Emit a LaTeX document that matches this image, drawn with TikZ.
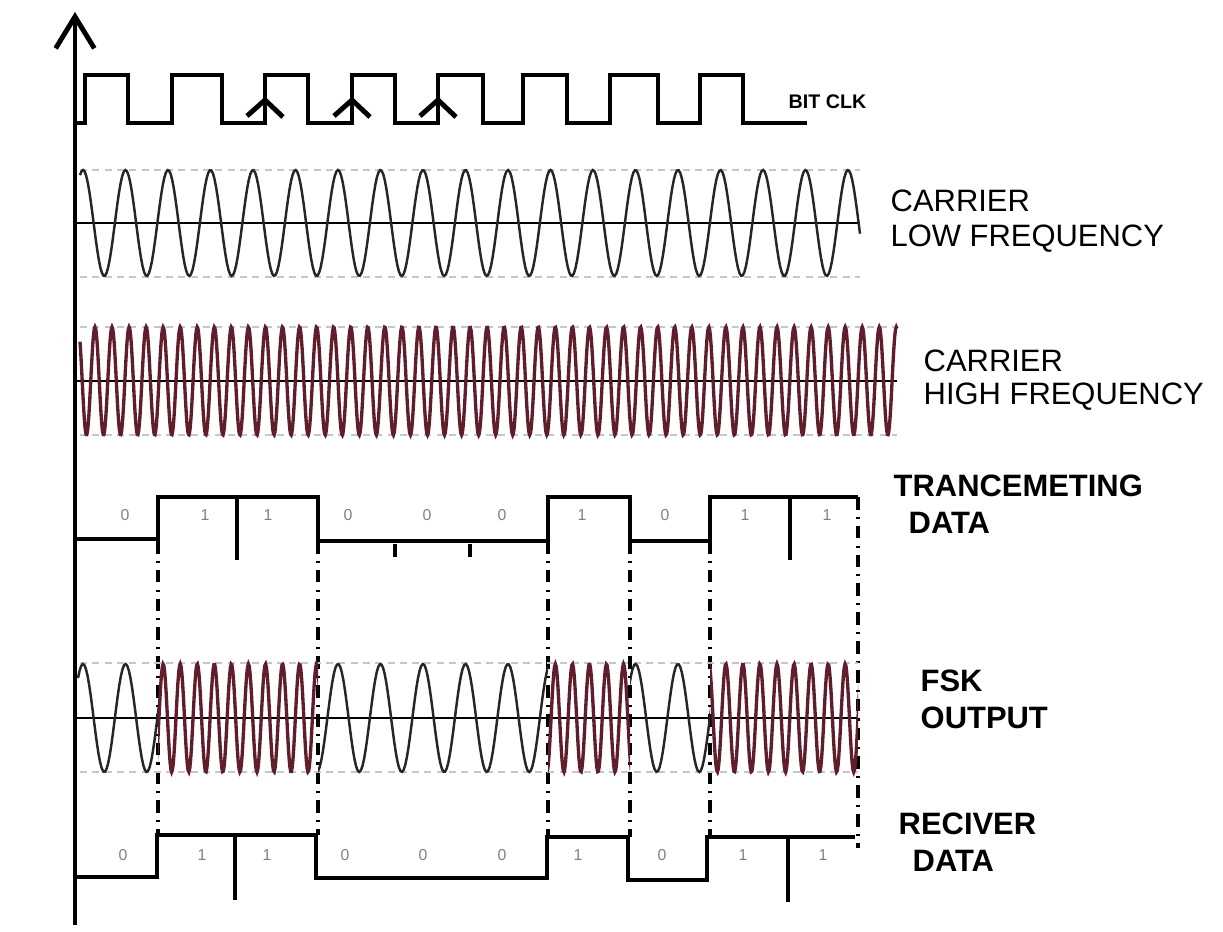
\documentclass[tikz,border=0pt]{standalone}
\usepackage{fontspec}
\setmainfont{Liberation Sans}
\usetikzlibrary{calc,arrows.meta}

\definecolor{wavered}{RGB}{96,30,44}

\tikzset{
  clk/.style={line width=1.4pt},
  axisline/.style={line width=1.4pt},
  level/.style={line width=1.1pt},
  tickline/.style={line width=0.9pt},
  edgeline/.style={line width=0.9pt,dash pattern=on 3.6pt off 2pt on 0.6pt off 2pt},
  guide/.style={gray!45,line width=0.35pt,dash pattern=on 2pt off 1.5pt},
  midline/.style={line width=0.55pt},
  lowwave/.style={black!85,line width=0.7pt},
  highwave/.style={wavered,line width=0.95pt},
  bit/.style={gray,font=\fontsize{4.5}{5}\selectfont,inner sep=0pt},
  lab/.style={anchor=base west,inner sep=0pt,font=\fontsize{8.8}{10}\selectfont},
  blab/.style={lab,font=\fontsize{8.8}{10}\selectfont\bfseries},
}

\begin{document}
\begin{tikzpicture}[x=0.1mm,y=-0.1mm]
  \useasboundingbox (0,0) rectangle (1223,932);
  % time axis
  \draw[axisline,-{Straight Barb[length=9pt,width=11pt]}] (75,925) -- (75,12);

  % bit clock
  \draw[clk] (75,123) \foreach \r/\f in {85/128,172/222,265/308,352/395,438/483,523/567,610/658,700/743}{
     -- (\r,123) -- (\r,75) -- (\f,75) -- (\f,123)} -- (807,123);
  \foreach \r in {265,352,438}
     \draw[clk] (\r-18,116) -- (\r,100) -- (\r+18,117);
  \node[blab,font=\fontsize{5.6}{6}\selectfont\bfseries] (clk) at (788,109) {BIT CLK};

  % carriers
  \draw[guide] (80,170) -- (860,170) (80,277) -- (860,277);
  \draw[midline] (75,223) -- (860,223);
  \draw[lowwave] plot[domain=80:860,samples=500] (\x,{223-53*cos(360*mod((\x-83)/42.5,1))});
  \draw[guide] (80,327) -- (897,327) (80,435) -- (897,435);
  \draw[midline] (75,381) -- (897,381);
  \draw[highwave] plot[domain=80:897,samples=1200] (\x,{381-54*cos(360*mod((\x-95)/17.05,1))});

  % transmitted data
  \draw[level] (75,539) -- (158,539) -- (158,497) -- (318,497) -- (318,541) -- (548,541) -- (548,497)
     -- (630,497) -- (630,541) -- (710,541) -- (710,497) -- (858,497);
  \draw[tickline] (237,497) -- (237,560) (790,497) -- (790,560) (395,544) -- (395,557) (470,544) -- (470,557);
  \foreach \x/\b in {125/0,205/1,268/1,348/0,427/0,502/0,582/1,665/0,745/1,827/1}
     \node[bit] at (\x,515) {\b};

  % edges carried down
  \foreach \x/\t/\b in {158/541/835,318/541/835,548/541/837,630/541/837,710/541/837,858/497/848}
     \draw[edgeline] (\x,\t) -- (\x,\b);

  % fsk output
  \draw[guide] (80,663) -- (858,663) (80,772) -- (858,772);
  \draw[midline] (75,718) -- (858,718);
  \begin{scope}
    \clip (75,600) rectangle (158,800) (318,600) rectangle (548,800) (630,600) rectangle (710,800);
    \draw[lowwave] plot[domain=78:712,samples=400] (\x,{718-54*cos(360*mod((\x-83)/42.5,1))});
  \end{scope}
  \begin{scope}
    \clip (158,600) rectangle (318,800) (548,600) rectangle (630,800) (710,600) rectangle (858,800);
    \draw[highwave] plot[domain=156:860,samples=900] (\x,{718-54*cos(360*mod((\x-95)/17.05,1))});
  \end{scope}

  % received data
  \draw[level] (75,877) -- (157,877) -- (157,835) -- (316,835) -- (316,878) -- (547,878) -- (547,837)
     -- (628,837) -- (628,880) -- (707,880) -- (707,837) -- (855,837);
  \draw[tickline] (235,835) -- (235,900) (788,837) -- (788,902);
  \foreach \x/\b in {123/0,202/1,267/1,345/0,423/0,502/0,578/1,662/0,743/1,823/1}
     \node[bit] at (\x,855) {\b};

  % labels
  \foreach \n/\x/\y/\t in {lowa/890/212/CARRIER,lowb/890/247/LOW FREQUENCY,higha/923/372/CARRIER,highb/923/405/HIGH FREQUENCY}
     \node[lab] (\n) at (\x,\y) {\t};
  \foreach \n/\x/\y/\t in {txa/893/496/TRANCEMETING,txb/908/533/DATA,fska/920/691/FSK,fskb/920/728/OUTPUT,rxa/898/834/RECIVER,rxb/912/871/DATA}
     \node[blab] (\n) at (\x,\y) {\t};
\end{tikzpicture}
\end{document}
